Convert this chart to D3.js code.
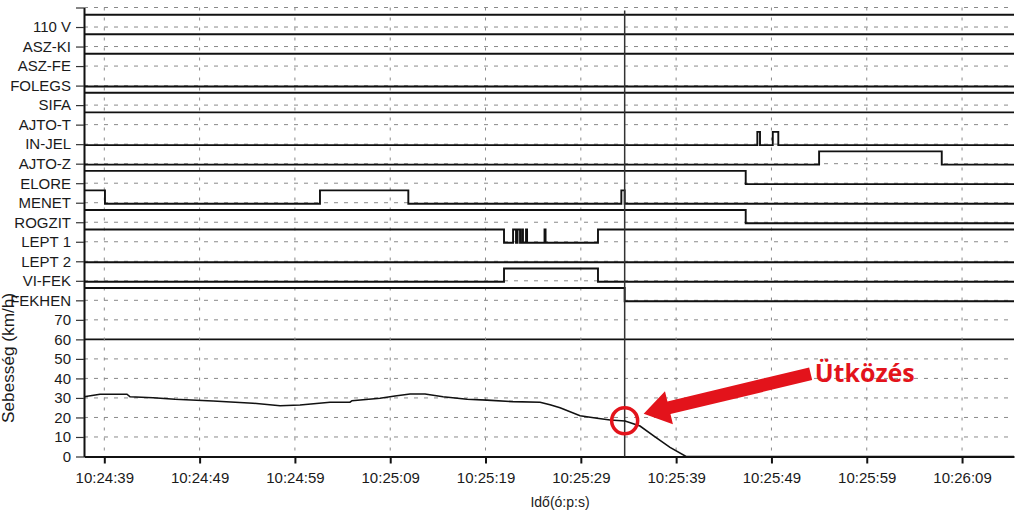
<!DOCTYPE html>
<html>
<head>
<meta charset="utf-8">
<script src="https://cdn.jsdelivr.net/npm/d3@7"></script>
<style>
  html, body { margin: 0; padding: 0; background: #fff; }
  svg { display: block; }
  text { font-family: "Liberation Sans", Arial, sans-serif; fill: #1a1a1a; }
</style>
</head>
<body>
<svg id="chart" width="1024" height="527"></svg>
<script>
// ---------------- DATA ----------------
const tickTimes = ["10:24:39","10:24:49","10:24:59","10:25:09","10:25:19","10:25:29","10:25:39","10:25:49","10:25:59","10:26:09"];
const baseTime = "10:24:39";
const timeRangeSec = [-2.13, 95.45];          // seconds relative to baseTime
const speedTicks = [0, 10, 20, 30, 40, 50, 60, 70];
const signalNames = ["110 V","ASZ-KI","ASZ-FE","FOLEGS","SIFA","AJTO-T","IN-JEL","AJTO-Z","ELORE","MENET","ROGZIT","LEPT 1","LEPT 2","VI-FEK","FEKHEN"];
const signalLevels = [220, 210, 200, 190, 180, 170, 160, 150, 140, 130, 120, 110, 100, 90, 80];
const signalStart = [1, 1, 1, 0, 1, 1, 0, 0, 1, 1, 1, 1, 0, 0, 1];
const signalToggles = [
  [], [], [], [], [], [],
  [68.52, 68.80, 70.14, 70.72],                       // IN-JEL
  [75.0, 87.87],                                      // AJTO-Z
  [67.30],                                            // ELORE
  [0.07, 22.63, 31.9, 54.25, 54.6],                   // MENET
  [67.30],                                            // ROGZIT
  [41.94, 42.89, 43.20, 43.36, 43.62, 43.83, 43.93, 44.25, 44.36, 46.19, 46.30, 51.8], // LEPT 1
  [],                                                 // LEPT 2
  [41.94, 51.8],                                      // VI-FEK
  [54.6]                                              // FEKHEN
];
const speedSec = [-2.13,-0.45,2.38,2.70,5.11,7.42,11.41,15.60,18.44,20.54,23.68,25.78,25.99,28.93,30.50,32.08,33.65,35.54,38.06,40.16,42.89,45.72,46.77,47.82,49.92,51.70,53.07,54.64,56.21,57.79,59.36,61.04,95.45];
const speedKmh = [30.6,31.9,31.9,30.6,30.1,29.3,28.4,27.3,26.0,26.4,27.8,27.8,28.6,29.8,31.0,32.0,32.0,30.6,29.3,28.9,28.1,27.8,26.5,25.0,20.9,19.6,18.7,18.2,15.6,10.1,4.7,0,0];
const collisionSec = 54.6;
const collisionKmh = 18.3;
const annotationText = "Ütközés";
const yTitle = "Sebesség (km/h)";
const xTitle = "Idő(ó:p:s)";

// ---------------- CHART ----------------
const svg = d3.select("#chart");
const parse = d3.timeParse("%H:%M:%S");
const base = parse(baseTime);
const at = s => new Date(base.getTime() + s * 1000);

const x = d3.scaleTime().domain(timeRangeSec.map(at)).range([84, 1014]);
const y = d3.scaleLinear().domain([0, 230]).range([456.5, 7.5]);

// grid
const grid = svg.append("g");
grid.selectAll("line.h").data(d3.range(10, 231, 10)).join("line")
  .attr("x1", x.range()[0]).attr("x2", x.range()[1])
  .attr("y1", d => y(d)).attr("y2", d => y(d))
  .attr("stroke", d => d === 60 ? "#111" : "#8a8a8a")
  .attr("stroke-width", d => d === 60 ? 1.6 : 1)
  .attr("stroke-dasharray", d => d === 60 ? null : "4,6");
grid.selectAll("line.v").data(tickTimes.map(parse)).join("line")
  .attr("x1", d => x(d)).attr("x2", d => x(d))
  .attr("y1", y(230)).attr("y2", y(0))
  .attr("stroke", "#8a8a8a").attr("stroke-width", 1)
  .attr("stroke-dasharray", "3,7");

// axes
const yLabel = v => v < 80 ? String(v) : (signalNames[signalLevels.indexOf(v)] || "");
const yAxis = d3.axisLeft(y).tickValues(d3.range(0, 231, 10)).tickSize(8).tickSizeOuter(0).tickPadding(5).tickFormat(yLabel);
const gy = svg.append("g").attr("transform", "translate(84,0)").call(yAxis);
gy.select(".domain").attr("stroke", "#111").attr("stroke-width", 2);
gy.selectAll(".tick line").attr("stroke", "#333").attr("stroke-width", 1.2);
gy.selectAll(".tick text").style("font-size", "15px").attr("fill", "#1a1a1a");

const xAxis = d3.axisBottom(x).tickValues(tickTimes.map(parse)).tickSize(7).tickSizeOuter(0).tickPadding(9).tickFormat(d3.timeFormat("%H:%M:%S"));
const gx = svg.append("g").attr("transform", `translate(0,${y(0)})`).call(xAxis);
gx.select(".domain").attr("stroke", "#111").attr("stroke-width", 2);
gx.selectAll(".tick line").attr("stroke", "#111").attr("stroke-width", 2);
gx.selectAll(".tick text").style("font-size", "15px").attr("fill", "#1a1a1a");

// signal traces (high level ~ 0.68 of a row above the low level)
const sigLine = d3.line().x(d => x(at(d[0]))).y(d => d[1]).curve(d3.curveStepAfter);
signalNames.forEach((name, i) => {
  let state = signalStart[i];
  const lvl = s => y(signalLevels[i] + (s ? 6.3 : -0.5));
  const pts = [[timeRangeSec[0], lvl(state)]];
  signalToggles[i].forEach(t => { state = 1 - state; pts.push([t, lvl(state)]); });
  pts.push([timeRangeSec[1], lvl(state)]);
  svg.append("path").datum(pts).attr("d", sigLine)
    .attr("fill", "none").attr("stroke", "#111").attr("stroke-width", 1.9);
});

// collision marker line
svg.append("line")
  .attr("x1", x(at(collisionSec))).attr("x2", x(at(collisionSec)))
  .attr("y1", y(228.5)).attr("y2", y(0))
  .attr("stroke", "#333").attr("stroke-width", 1.5);

// speed line
const speedLine = d3.line().x((d, i) => x(at(speedSec[i]))).y(d => y(d));
svg.append("path").datum(speedKmh).attr("d", speedLine)
  .attr("fill", "none").attr("stroke", "#111").attr("stroke-width", 1.6);

// titles
svg.append("text").attr("transform", `translate(14,${y(50.5)}) rotate(-90)`)
  .attr("text-anchor", "middle").style("font-size", "16px")
  .attr("textLength", 130).attr("lengthAdjust", "spacingAndGlyphs").text(yTitle);
svg.append("text").attr("x", 560).attr("y", 507).attr("text-anchor", "middle")
  .style("font-size", "14px").text(xTitle);

// annotation
const cx = x(at(collisionSec)), cy = y(collisionKmh);
svg.append("circle").attr("cx", cx).attr("cy", cy).attr("r", 13)
  .attr("fill", "none").attr("stroke", "#e3131b").attr("stroke-width", 3.5);
const tip = [cx + 19, cy - 7], tail = [cx + 186, cy - 47];
const ang = Math.atan2(tail[1] - tip[1], tail[0] - tip[0]);
const ux = Math.cos(ang), uy = Math.sin(ang), nx = -uy, ny = ux;
const headLen = 26, headW = 17, shaftW = 6.5;
const hb = [tip[0] + ux * headLen, tip[1] + uy * headLen];
const poly = [
  tip,
  [hb[0] + nx * headW, hb[1] + ny * headW],
  [hb[0] + nx * shaftW, hb[1] + ny * shaftW],
  [tail[0] + nx * shaftW, tail[1] + ny * shaftW],
  [tail[0] - nx * shaftW, tail[1] - ny * shaftW],
  [hb[0] - nx * shaftW, hb[1] - ny * shaftW],
  [hb[0] - nx * headW, hb[1] - ny * headW]
];
svg.append("polygon").attr("points", poly.map(p => p.join(",")).join(" ")).attr("fill", "#e3131b");
svg.append("text").attr("x", cx + 190).attr("y", cy - 39)
  .style("font-family", "'Open Sans', sans-serif").style("font-weight", "bold")
  .style("font-size", "25px").style("fill", "#e3131b").text(annotationText);
</script>
</body>
</html>
